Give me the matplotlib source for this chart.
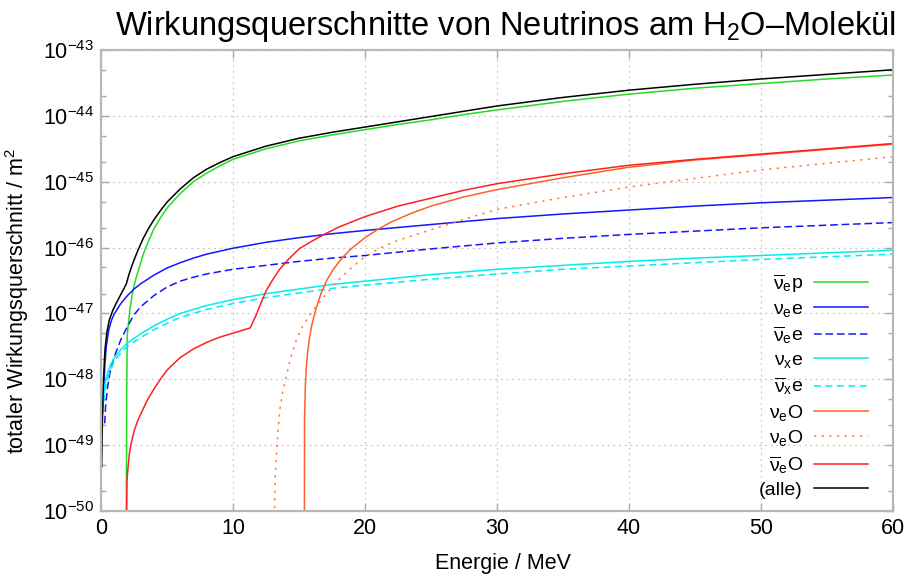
import numpy as np
import matplotlib
matplotlib.use("Agg")
import matplotlib.pyplot as plt
from matplotlib.ticker import NullFormatter, FixedLocator, LogFormatterSciNotation

plt.rcParams['font.family'] = ['Liberation Sans', 'DejaVu Sans']
plt.rcParams['mathtext.fontset'] = 'custom'
plt.rcParams['mathtext.rm'] = 'Liberation Sans'
plt.rcParams['mathtext.it'] = 'Liberation Sans'
plt.rcParams['mathtext.bf'] = 'Liberation Sans:bold'
plt.rcParams['mathtext.default'] = 'regular'

# ---- data: energy in MeV, log10 of cross section in m^2 ----
E_antinue_p = [1.90, 1.95, 1.98, 2.0, 2.2, 2.4, 2.6, 2.9, 3.2, 3.6, 4.0, 4.5, 5.0, 6.0, 7.0, 8.0, 9.0, 10, 12.5, 15, 17.5, 20, 22.5, 25, 27.5, 30, 35, 40, 45, 50, 55, 60]
L_antinue_p = [-51.0, -48.2, -47.45, -47.30, -46.92, -46.68, -46.50, -46.30, -46.10, -45.90, -45.72, -45.55, -45.40, -45.18, -45.00, -44.87, -44.76, -44.66, -44.50, -44.38, -44.29, -44.21, -44.13, -44.06, -43.98, -43.91, -43.78, -43.67, -43.58, -43.51, -43.44, -43.38]

E_nue_e = [0.15, 0.2, 0.3, 0.4, 0.6, 0.8, 1.0, 1.5, 2.0, 2.5, 3.0, 4.0, 5.0, 6.0, 7.0, 8.0, 10, 12.5, 15, 17.5, 20, 25, 30, 35, 40, 45, 50, 55, 60]
L_nue_e = [-48.47, -48.15, -47.75, -47.50, -47.24, -47.10, -47.01, -46.85, -46.73, -46.63, -46.55, -46.42, -46.31, -46.23, -46.16, -46.10, -46.01, -45.92, -45.85, -45.79, -45.74, -45.65, -45.56, -45.49, -45.43, -45.37, -45.32, -45.28, -45.24]

E_antinue_e = [0.28, 0.35, 0.5, 0.7, 1.0, 1.5, 2.0, 2.5, 3.0, 4.0, 5.0, 6.0, 7.0, 8.0, 10, 12.5, 15, 17.5, 20, 25, 30, 35, 40, 45, 50, 55, 60]
L_antinue_e = [-48.67, -48.40, -48.12, -47.88, -47.66, -47.40, -47.20, -47.02, -46.90, -46.73, -46.60, -46.51, -46.45, -46.40, -46.33, -46.27, -46.21, -46.16, -46.12, -46.02, -45.93, -45.86, -45.80, -45.75, -45.70, -45.66, -45.62]

E_nux_e = [0.13, 0.2, 0.3, 0.5, 0.75, 1.0, 1.5, 2.0, 2.5, 3.0, 4.0, 5.0, 6.0, 7.0, 8.0, 10, 12.5, 15, 17.5, 20, 25, 30, 35, 40, 45, 50, 55, 60]
L_nux_e = [-48.42, -48.22, -48.06, -47.90, -47.77, -47.68, -47.55, -47.45, -47.38, -47.31, -47.19, -47.09, -47.00, -46.94, -46.88, -46.79, -46.70, -46.63, -46.56, -46.51, -46.41, -46.33, -46.27, -46.21, -46.16, -46.12, -46.08, -46.04]

E_antinux_e = [0.15, 0.2, 0.3, 0.5, 0.75, 1.0, 1.5, 2.0, 2.5, 3.0, 4.0, 5.0, 6.0, 7.0, 8.0, 10, 12.5, 15, 17.5, 20, 25, 30, 35, 40, 45, 50, 55, 60]
L_antinux_e = [-48.52, -48.35, -48.17, -47.98, -47.84, -47.73, -47.60, -47.50, -47.43, -47.37, -47.25, -47.15, -47.06, -47.00, -46.94, -46.85, -46.76, -46.69, -46.62, -46.57, -46.48, -46.40, -46.33, -46.28, -46.23, -46.18, -46.14, -46.10]

E_nue_O1 = [15.40, 15.42, 15.48, 15.56, 15.65, 15.8, 16.0, 16.3, 16.7, 17.1, 17.6, 18.3, 19.0, 20.0, 21.0, 22.0, 23.5, 25, 27.5, 30, 32.5, 35, 37.5, 40, 45, 50, 55, 60]
L_nue_O1 = [-51.0, -48.6, -48.1, -47.81, -47.60, -47.36, -47.15, -46.92, -46.68, -46.50, -46.33, -46.15, -46.01, -45.85, -45.72, -45.61, -45.48, -45.37, -45.23, -45.12, -45.03, -44.94, -44.86, -44.78, -44.67, -44.59, -44.51, -44.43]

E_nue_O2 = [13.10, 13.15, 13.2, 13.33, 13.54, 13.8, 14.05, 14.4, 14.8, 15.3, 16.0, 17.0, 18.0, 19.0, 20.0, 21.0, 22.5, 25, 27.5, 30, 32.5, 35, 40, 45, 50, 55, 60]
L_nue_O2 = [-51.0, -49.9, -49.48, -49.0, -48.47, -48.15, -47.95, -47.65, -47.40, -47.18, -46.97, -46.72, -46.49, -46.30, -46.14, -46.02, -45.89, -45.73, -45.57, -45.42, -45.33, -45.24, -45.08, -44.95, -44.82, -44.72, -44.62]

E_antinue_O = [1.92, 1.95, 1.97, 2.05, 2.15, 2.3, 2.53, 2.8, 3.03, 3.5, 4.0, 4.5, 5.0, 6.0, 7.0, 8.0, 9.0, 10, 11.3, 11.7, 12.0, 12.5, 13.0, 13.5, 14, 15, 16, 17, 18, 20, 22.5, 25, 27.5, 30, 35, 40, 45, 50, 55, 60]
L_antinue_O = [-51.0, -49.9, -49.53, -49.33, -49.13, -48.96, -48.77, -48.62, -48.52, -48.32, -48.15, -48.00, -47.86, -47.67, -47.54, -47.44, -47.36, -47.30, -47.22, -47.05, -46.90, -46.66, -46.49, -46.34, -46.22, -46.02, -45.90, -45.79, -45.69, -45.53, -45.37, -45.25, -45.13, -45.03, -44.88, -44.75, -44.66, -44.58, -44.50, -44.42]

E_all = [0.05, 0.1, 0.15, 0.2, 0.3, 0.45, 0.63, 0.9, 1.14, 1.4, 1.64, 1.92, 2.1, 2.3, 2.5, 2.8, 3.2, 3.6, 4.0, 4.5, 5.0, 6.0, 7.0, 8.0, 9.0, 10, 12.5, 15, 17.5, 20, 22.5, 25, 27.5, 30, 35, 40, 45, 50, 55, 60]
L_all = [-49.33, -48.70, -48.27, -47.95, -47.55, -47.28, -47.10, -46.95, -46.85, -46.75, -46.66, -46.55, -46.42, -46.30, -46.19, -46.04, -45.86, -45.71, -45.58, -45.44, -45.31, -45.11, -44.94, -44.81, -44.71, -44.62, -44.46, -44.34, -44.25, -44.17, -44.09, -44.01, -43.93, -43.85, -43.72, -43.61, -43.52, -43.44, -43.37, -43.30]

labels = [r'$\overline{\nu}_{e}$p', r'$\nu_{e}$e', r'$\overline{\nu}_{e}$e', r'$\nu_{x}$e',
          r'$\overline{\nu}_{x}$e', r'$\nu_{e}$O', r'$\nu_{e}$O', r'$\overline{\nu}_{e}$O', '(alle)']

x_ticks = [0, 10, 20, 30, 40, 50, 60]
y_tick_exponents = [-50, -49, -48, -47, -46, -45, -44, -43]

series = [
    (E_antinue_p, L_antinue_p, '#22dd22', None),
    (E_nue_e, L_nue_e, '#1515ff', None),
    (E_antinue_e, L_antinue_e, '#1515ff', (5, 2.5)),
    (E_nux_e, L_nux_e, '#00eeee', None),
    (E_antinux_e, L_antinux_e, '#00eeee', (4.5, 3)),
    (E_nue_O1, L_nue_O1, '#ff6025', None),
    (E_nue_O2, L_nue_O2, '#ff7a45', (1.5, 3.5)),
    (E_antinue_O, L_antinue_O, '#ff2020', None),
    (E_all, L_all, '#000000', None),
]

fig = plt.figure(figsize=(9.09, 5.79), dpi=100)
ax = fig.add_axes([101/909, 1 - 511/579, 792/909, 461/579])

for (E, L, col, dash), lab in zip(series, labels):
    line, = ax.plot(E, 10.0 ** np.array(L), color=col, lw=1.1, label=lab)
    if dash is not None:
        line.set_dashes(dash)

ax.set_yscale('log')
ax.set_xlim(0, 60)
ax.set_ylim(1e-50, 1e-43)
ax.xaxis.set_major_locator(FixedLocator(x_ticks))
major_y = [10.0 ** e for e in y_tick_exponents]
minor_y = [m * 10.0 ** e for e in y_tick_exponents[:-1] for m in (2.0, 5.0)]
ax.yaxis.set_major_locator(FixedLocator(major_y))
ax.yaxis.set_major_formatter(LogFormatterSciNotation())
ax.yaxis.set_minor_locator(FixedLocator(minor_y))
ax.yaxis.set_minor_formatter(NullFormatter())

for sp in ax.spines.values():
    sp.set_color('#b8b8b8')
    sp.set_linewidth(1.6)

ax.tick_params(which='both', direction='in', top=True, right=True, color='#a8a8a8', labelsize=15.5)
ax.tick_params(which='major', length=6, width=1.0)
ax.tick_params(which='minor', length=3.5, width=1.0)
ax.tick_params(axis='x', pad=5)
ax.tick_params(axis='y', pad=5)
ax.grid(True, which='major', color='#c8c8c8', linestyle=(0, (1.5, 3)), lw=0.9)

ax.set_title(r'Wirkungsquerschnitte von Neutrinos am H$_2$O–Molekül', fontsize=23.5, pad=11, x=0.510)
ax.set_xlabel('Energie / MeV', fontsize=15.5)
ax.xaxis.set_label_coords(0.508, -0.092)
ax.set_ylabel(r'totaler Wirkungsquerschnitt / m$^2$', fontsize=15.5)
ax.yaxis.set_label_coords(-0.088, 0.455)

ax.legend(loc='lower right', frameon=False, markerfirst=False, fontsize=14,
          handlelength=2.8, handletextpad=0.55, labelspacing=0.28, borderaxespad=0.0,
          bbox_to_anchor=(0.9783, 0.010))

fig.savefig('out.png', dpi=100)
